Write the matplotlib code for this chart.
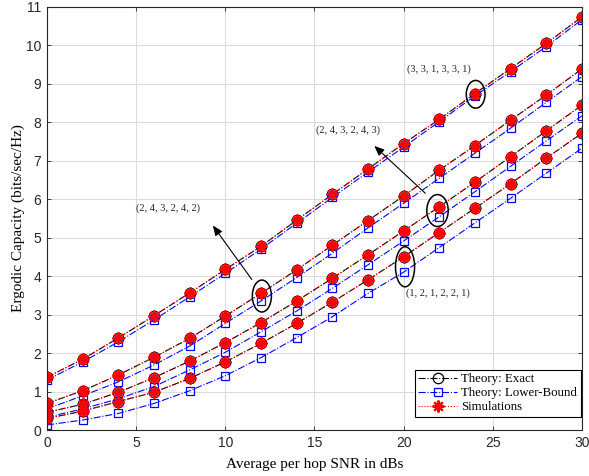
import numpy as np
import matplotlib
matplotlib.use("Agg")
import matplotlib.pyplot as plt
from matplotlib.patches import Ellipse

snr = [0, 2, 4, 6, 8, 10, 12, 14, 16, 18, 20, 22, 24, 26, 28, 30]

# (3,3,1,3,3,1)
exact_a = [1.37, 1.84, 2.39, 2.97, 3.56, 4.17, 4.77, 5.45, 6.12, 6.78, 7.44, 8.07, 8.74, 9.39, 10.04, 10.73]
lower_a = [1.30, 1.77, 2.29, 2.86, 3.46, 4.07, 4.70, 5.37, 6.04, 6.70, 7.35, 8.01, 8.68, 9.31, 9.96, 10.66]
# (2,4,3,2,4,2)
exact_b = [0.69, 1.02, 1.43, 1.89, 2.38, 2.96, 3.55, 4.16, 4.80, 5.44, 6.08, 6.75, 7.39, 8.05, 8.70, 9.38]
lower_b = [0.55, 0.89, 1.25, 1.69, 2.18, 2.77, 3.35, 3.96, 4.59, 5.25, 5.89, 6.54, 7.19, 7.84, 8.51, 9.18]
# (2,4,3,2,4,3)
exact_c = [0.46, 0.67, 0.98, 1.36, 1.79, 2.27, 2.79, 3.35, 3.94, 4.55, 5.17, 5.80, 6.44, 7.10, 7.77, 8.44]
lower_c = [0.33, 0.55, 0.81, 1.13, 1.56, 2.02, 2.55, 3.09, 3.68, 4.29, 4.91, 5.54, 6.19, 6.85, 7.51, 8.16]
# (1,2,1,2,2,1)
exact_d = [0.30, 0.49, 0.74, 0.98, 1.34, 1.77, 2.25, 2.77, 3.32, 3.90, 4.50, 5.13, 5.76, 6.40, 7.06, 7.71]
lower_d = [0.13, 0.26, 0.43, 0.69, 1.02, 1.41, 1.88, 2.40, 2.94, 3.55, 4.10, 4.74, 5.38, 6.02, 6.67, 7.32]

exact_all = [exact_a, exact_b, exact_c, exact_d]
lower_all = [lower_a, lower_b, lower_c, lower_d]
sim_all = exact_all  # simulations lie on the exact curves

fig = plt.figure(figsize=(5.89, 4.76), dpi=100)
ax = fig.add_axes([0.0798, 0.0966, 0.9082, 0.8897])

for i in range(4):
    ax.plot(snr, exact_all[i], color="black", linestyle="-.", linewidth=0.8,
            marker="o", markersize=7.5, markerfacecolor="none", markeredgewidth=0.9,
            label="Theory: Exact" if i == 0 else None)
for i in range(4):
    ax.plot(snr, lower_all[i], color="blue", linestyle="-.", linewidth=0.8,
            marker="s", markersize=6, markerfacecolor="none", markeredgewidth=0.9,
            label="Theory: Lower-Bound" if i == 0 else None)
for i in range(4):
    ax.plot(snr, sim_all[i], color="red", linestyle=":", linewidth=0.8,
            marker=(8, 2, 0), markersize=8.5, markeredgewidth=1.6,
            label="Simulations" if i == 0 else None)

ax.set_xlim(0, 30)
ax.set_ylim(0, 11)
ax.set_xticks(range(0, 31, 5))
ax.set_yticks(range(0, 12))
ax.grid(True, color="#dcdcdc", linewidth=0.8)
ax.set_axisbelow(True)
ax.tick_params(direction="in", top=True, right=True, length=3, width=0.6,
               colors="#262626", labelsize=10, pad=4)
for lab in ax.get_xticklabels() + ax.get_yticklabels():
    lab.set_fontfamily("Liberation Sans")
for s in ax.spines.values():
    s.set_color("#262626")
    s.set_linewidth(0.8)

ax.set_xlabel("Average per hop SNR in dBs", fontsize=11, family="Liberation Serif", labelpad=6)
ax.set_ylabel("Ergodic Capacity (bits/sec/Hz)", fontsize=11, family="Liberation Serif", labelpad=1)

# ellipses and labels
for (cx, cy, w, h) in [(24.04, 8.72, 1.05, 0.72), (21.9, 5.70, 1.2, 0.83),
                       (12.05, 3.48, 1.07, 0.83), (20.08, 4.24, 1.07, 1.04)]:
    ax.add_patch(Ellipse((cx, cy), w, h, fill=False, edgecolor="black", linewidth=1.1, zorder=5))

tfont = dict(fontsize=7.5, family="Liberation Serif", color="#222222")
ax.text(20.17, 9.37, "(3, 3, 1, 3, 3, 1)", va="center", ha="left", **tfont)
ax.text(15.1, 7.79, "(2, 4, 3, 2, 4, 3)", va="center", ha="left", **tfont)
ax.text(5.0, 5.76, "(2, 4, 3, 2, 4, 2)", va="center", ha="left", **tfont)
ax.text(20.15, 3.55, "(1, 2, 1, 2, 2, 1)", va="center", ha="left", **tfont)

arrow = dict(arrowstyle="-|>,head_length=0.6,head_width=0.25", color="black", linewidth=0.8)
ax.annotate("", xy=(9.21, 5.37), xytext=(11.58, 3.85), arrowprops=arrow, zorder=6)
ax.annotate("", xy=(18.24, 7.43), xytext=(21.33, 6.10), arrowprops=arrow, zorder=6)

leg = ax.legend(loc="lower right", bbox_to_anchor=(0.998, 0.03),
                prop={"family": "Liberation Serif", "size": 9.3},
                fancybox=False, edgecolor="black", framealpha=1,
                handlelength=3.0, labelspacing=0.15, borderpad=0.3,
                handletextpad=0.3, borderaxespad=0)
leg.get_frame().set_linewidth(0.8)

fig.savefig("out.png", dpi=100)
